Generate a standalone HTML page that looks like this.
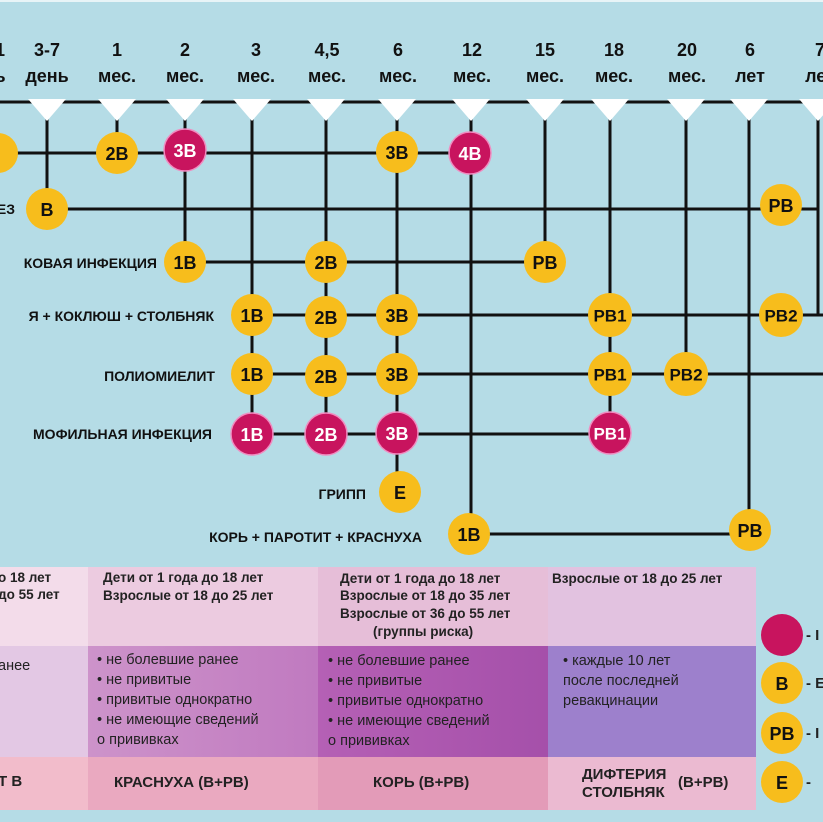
<!DOCTYPE html>
<html><head><meta charset="utf-8"><style>
html,body{margin:0;padding:0;background:#b5dce6}
svg{display:block}
text{font-family:"Liberation Sans",sans-serif}
.h{font-size:18px;font-weight:bold;fill:#111;text-anchor:middle}
.l{font-size:14px;font-weight:bold;fill:#111;text-anchor:end}
.n{font-size:18px;font-weight:bold;text-anchor:middle;dominant-baseline:central}
.t{font-size:14.5px;fill:#222}
.tb{font-size:13.5px;fill:#222;font-weight:bold}
</style></head><body>
<svg width="823" height="822" viewBox="0 0 823 822" xmlns="http://www.w3.org/2000/svg">
<rect width="823" height="822" fill="#b5dce6"/>
<rect width="823" height="2" fill="#e8f4f7"/>
<g class="h">
<text x="0" y="56">1</text><text x="0" y="82">ь</text>
<text x="47" y="56">3-7</text><text x="47" y="82">день</text>
<text x="117" y="56">1</text><text x="117" y="82">мес.</text>
<text x="185" y="56">2</text><text x="185" y="82">мес.</text>
<text x="256" y="56">3</text><text x="256" y="82">мес.</text>
<text x="327" y="56">4,5</text><text x="327" y="82">мес.</text>
<text x="398" y="56">6</text><text x="398" y="82">мес.</text>
<text x="472" y="56">12</text><text x="472" y="82">мес.</text>
<text x="545" y="56">15</text><text x="545" y="82">мес.</text>
<text x="614" y="56">18</text><text x="614" y="82">мес.</text>
<text x="687" y="56">20</text><text x="687" y="82">мес.</text>
<text x="750" y="56">6</text><text x="750" y="82">лет</text>
<text x="820" y="56">7</text><text x="820" y="82">лет</text>
</g>
<g stroke="#111" stroke-width="3" fill="none">
<line x1="0" y1="102" x2="823" y2="102"/>
<line x1="47" y1="115" x2="47" y2="209"/>
<line x1="117" y1="115" x2="117" y2="153"/>
<line x1="185" y1="115" x2="185" y2="262"/>
<line x1="252" y1="115" x2="252" y2="434"/>
<line x1="326" y1="115" x2="326" y2="434"/>
<line x1="397" y1="115" x2="397" y2="492"/>
<line x1="471" y1="115" x2="471" y2="534"/>
<line x1="545" y1="115" x2="545" y2="262"/>
<line x1="610" y1="115" x2="610" y2="433"/>
<line x1="686" y1="115" x2="686" y2="374"/>
<line x1="749" y1="115" x2="749" y2="530"/>
<line x1="818" y1="115" x2="818" y2="315"/>
<line x1="0" y1="153" x2="471" y2="153"/>
<line x1="47" y1="209" x2="818" y2="209"/>
<line x1="185" y1="262" x2="545" y2="262"/>
<line x1="252" y1="315" x2="823" y2="315"/>
<line x1="252" y1="374" x2="823" y2="374"/>
<line x1="252" y1="434" x2="610" y2="434"/>
<line x1="471" y1="534" x2="749" y2="534"/>
</g>
<g fill="#fff">
<polygon points="28,99 66,99 47,121"/>
<polygon points="98,99 136,99 117,121"/>
<polygon points="166,99 204,99 185,121"/>
<polygon points="233,99 271,99 252,121"/>
<polygon points="307,99 345,99 326,121"/>
<polygon points="378,99 416,99 397,121"/>
<polygon points="452,99 490,99 471,121"/>
<polygon points="526,99 564,99 545,121"/>
<polygon points="591,99 629,99 610,121"/>
<polygon points="667,99 705,99 686,121"/>
<polygon points="730,99 768,99 749,121"/>
<polygon points="799,99 837,99 818,121"/>
</g>
<g class="l">
<text x="15" y="214">ЕЗ</text>
<text x="157" y="268">КОВАЯ ИНФЕКЦИЯ</text>
<text x="214" y="321">Я + КОКЛЮШ + СТОЛБНЯК</text>
<text x="215" y="381">ПОЛИОМИЕЛИТ</text>
<text x="212" y="439">МОФИЛЬНАЯ  ИНФЕКЦИЯ</text>
<text x="366" y="499">ГРИПП</text>
<text x="422" y="542">КОРЬ + ПАРОТИТ + КРАСНУХА</text>
</g>
<g>
<g fill="#f7bd1c">
<circle cx="-2" cy="153" r="20"/>
<circle cx="117" cy="153" r="21"/>
<circle cx="397" cy="152" r="21"/>
<circle cx="47" cy="209" r="21"/>
<circle cx="781" cy="205" r="21"/>
<circle cx="185" cy="262" r="21"/>
<circle cx="326" cy="262" r="21"/>
<circle cx="545" cy="262" r="21"/>
<circle cx="252" cy="315" r="21"/>
<circle cx="326" cy="317" r="21"/>
<circle cx="397" cy="315" r="21"/>
<circle cx="610" cy="315" r="22"/>
<circle cx="781" cy="315" r="22"/>
<circle cx="252" cy="374" r="21"/>
<circle cx="326" cy="376" r="21"/>
<circle cx="397" cy="374" r="21"/>
<circle cx="610" cy="374" r="22"/>
<circle cx="686" cy="374" r="22"/>
<circle cx="400" cy="492" r="21"/>
<circle cx="469" cy="534" r="21"/>
<circle cx="750" cy="530" r="21"/>
</g>
<g fill="#c8145e" stroke="#f08cc0" stroke-width="1.5">
<circle cx="185" cy="150" r="21"/>
<circle cx="470" cy="153" r="21"/>
<circle cx="252" cy="434" r="21"/>
<circle cx="326" cy="434" r="21"/>
<circle cx="397" cy="433" r="21"/>
<circle cx="610" cy="433" r="21"/>
</g>
<g class="n" fill="#111">
<text x="117" y="154">2B</text><text x="397" y="153">3B</text>
<text x="47" y="210">B</text><text x="781" y="206">PB</text>
<text x="185" y="263">1B</text><text x="326" y="263">2B</text><text x="545" y="263">PB</text>
<text x="252" y="316">1B</text><text x="326" y="318">2B</text><text x="397" y="316">3B</text>
<text x="610" y="316" style="font-size:17px">PB1</text><text x="781" y="316" style="font-size:17px">PB2</text>
<text x="252" y="375">1B</text><text x="326" y="377">2B</text><text x="397" y="375">3B</text>
<text x="610" y="375" style="font-size:17px">PB1</text><text x="686" y="375" style="font-size:17px">PB2</text>
<text x="400" y="493">E</text><text x="469" y="535">1B</text><text x="750" y="531">PB</text>
</g>
<g class="n" fill="#fff">
<text x="185" y="151">3B</text><text x="470" y="154">4B</text>
<text x="252" y="435">1B</text><text x="326" y="435">2B</text><text x="397" y="434">3B</text>
<text x="610" y="434" style="font-size:17px">PB1</text>
</g>
</g>
<defs>
<linearGradient id="g1" x1="0" x2="1"><stop offset="0" stop-color="#cd93ca"/><stop offset="1" stop-color="#c07ac0"/></linearGradient>
<linearGradient id="g2" x1="0" x2="1"><stop offset="0" stop-color="#b560b5"/><stop offset="1" stop-color="#a550aa"/></linearGradient>
</defs>
<rect x="0" y="567" width="88" height="79" fill="#f3dcea"/>
<rect x="88" y="567" width="230" height="79" fill="#eccbe0"/>
<rect x="318" y="567" width="230" height="79" fill="#e6bed8"/>
<rect x="548" y="567" width="208" height="79" fill="#e2c2e0"/>
<rect x="0" y="646" width="88" height="111" fill="#e3c8e4"/>
<rect x="88" y="646" width="230" height="111" fill="url(#g1)"/>
<rect x="318" y="646" width="230" height="111" fill="url(#g2)"/>
<rect x="548" y="646" width="208" height="111" fill="#9d80cc"/>
<rect x="0" y="757" width="88" height="53" fill="#f2bccb"/>
<rect x="88" y="757" width="230" height="53" fill="#eaa9c0"/>
<rect x="318" y="757" width="230" height="53" fill="#e39bb8"/>
<rect x="548" y="757" width="208" height="53" fill="#ebbad1"/>
<g class="tb">
<text x="-2" y="582">о 18 лет</text>
<text x="-2" y="599">до 55 лет</text>
<text x="103" y="582">Дети от 1 года до 18 лет</text>
<text x="103" y="600">Взрослые от 18 до 25 лет</text>
<text x="340" y="583">Дети от 1 года до 18 лет</text>
<text x="340" y="600">Взрослые от 18 до 35 лет</text>
<text x="340" y="618">Взрослые от  36 до 55 лет</text>
<text x="373" y="636">(группы риска)</text>
<text x="552" y="583">Взрослые от 18 до 25 лет</text>
</g>
<g class="t">
<text x="-2" y="670">анее</text>
<text x="97" y="664">•  не болевшие ранее</text>
<text x="97" y="684">•  не привитые</text>
<text x="97" y="704">•  привитые однократно</text>
<text x="97" y="724">•  не имеющие сведений</text>
<text x="97" y="744">о прививках</text>
<text x="328" y="665">•  не болевшие ранее</text>
<text x="328" y="685">•  не привитые</text>
<text x="328" y="705">•  привитые однократно</text>
<text x="328" y="725">•  не имеющие сведений</text>
<text x="328" y="745">о прививках</text>
<text x="563" y="665">•  каждые 10 лет</text>
<text x="563" y="685">после последней</text>
<text x="563" y="705">ревакцинации</text>
</g>
<g class="tb" style="font-size:15px">
<text x="-2" y="786">Т В</text>
<text x="114" y="787">КРАСНУХА (В+РВ)</text>
<text x="373" y="787">КОРЬ (В+РВ)</text>
<text x="582" y="779">ДИФТЕРИЯ</text>
<text x="582" y="797">СТОЛБНЯК</text>
<text x="678" y="787">(В+РВ)</text>
</g>
<circle cx="782" cy="635" r="21" fill="#c8145e"/>
<circle cx="782" cy="683" r="21" fill="#f7bd1c"/>
<circle cx="782" cy="733" r="21" fill="#f7bd1c"/>
<circle cx="782" cy="782" r="21" fill="#f7bd1c"/>
<g class="n" fill="#111">
<text x="782" y="684">B</text><text x="782" y="734">PB</text><text x="782" y="783">E</text>
</g>
<g class="tb" style="font-size:15px">
<text x="806" y="640">- I</text><text x="806" y="688">- E</text><text x="806" y="738">- I</text><text x="806" y="787">-</text>
</g>
</svg>
</body></html>
